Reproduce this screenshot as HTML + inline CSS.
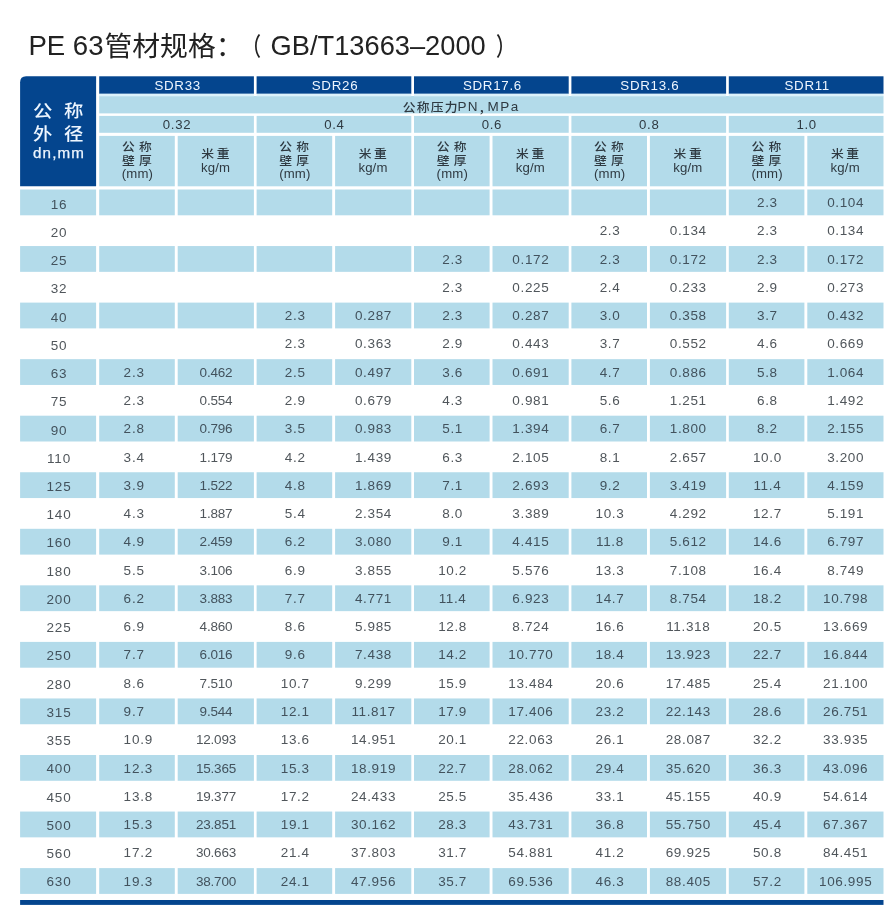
<!DOCTYPE html>
<html lang="zh-CN">
<head>
<meta charset="utf-8">
<title>PE 63管材规格</title>
<style>
html,body{margin:0;padding:0;background:#fff;}
body{width:892px;height:909px;position:relative;overflow:hidden;font-family:"Liberation Sans","Noto Sans CJK SC",sans-serif;color:#50565b;}
svg.bg{position:absolute;left:0;top:0;}
.abs{position:absolute;}
.title{font-size:27.6px;line-height:34px;color:#222;white-space:nowrap;}
.c{position:absolute;text-align:center;white-space:nowrap;}
.hd{font-size:13px;line-height:17px;letter-spacing:0.7px;}
.d{font-size:13.5px;line-height:26px;height:26px;letter-spacing:0.65px;}
.a{text-align:left;}
.s{color:#42525d;}
.sub{font-size:12.8px;line-height:15px;color:#2f3a42;white-space:nowrap;}
.l{font-size:13.2px;letter-spacing:0.15px;}
.k{font-family:"Noto Sans CJK SC","Liberation Sans",sans-serif;font-weight:500;}
</style>
</head>
<body>
<svg class="bg" width="892" height="909" viewBox="0 0 892 909">
<path d="M26.1 76.3 H96.1 V186.3 H20.1 V82.3 Q20.1 76.3 26.1 76.3 Z" fill="#04458e"/>
<rect x="99.2" y="96" width="784.3" height="17.4" fill="#b3dbea"/>
<rect x="99.2" y="76.3" width="154.7" height="17.6" fill="#04458e"/>
<rect x="99.2" y="93.7" width="154.7" height="2.6" fill="#dcf2fb"/>
<rect x="99.2" y="115.9" width="154.7" height="16.9" fill="#b3dbea"/>
<rect x="99.2" y="135.9" width="75.6" height="50.4" fill="#b3dbea"/>
<rect x="177.7" y="135.9" width="76.2" height="50.4" fill="#b3dbea"/>
<rect x="256.6" y="76.3" width="154.7" height="17.6" fill="#04458e"/>
<rect x="256.6" y="93.7" width="154.7" height="2.6" fill="#dcf2fb"/>
<rect x="256.6" y="115.9" width="154.7" height="16.9" fill="#b3dbea"/>
<rect x="256.6" y="135.9" width="75.6" height="50.4" fill="#b3dbea"/>
<rect x="335.1" y="135.9" width="76.2" height="50.4" fill="#b3dbea"/>
<rect x="414" y="76.3" width="154.7" height="17.6" fill="#04458e"/>
<rect x="414" y="93.7" width="154.7" height="2.6" fill="#dcf2fb"/>
<rect x="414" y="115.9" width="154.7" height="16.9" fill="#b3dbea"/>
<rect x="414" y="135.9" width="75.6" height="50.4" fill="#b3dbea"/>
<rect x="492.5" y="135.9" width="76.2" height="50.4" fill="#b3dbea"/>
<rect x="571.4" y="76.3" width="154.7" height="17.6" fill="#04458e"/>
<rect x="571.4" y="93.7" width="154.7" height="2.6" fill="#dcf2fb"/>
<rect x="571.4" y="115.9" width="154.7" height="16.9" fill="#b3dbea"/>
<rect x="571.4" y="135.9" width="75.6" height="50.4" fill="#b3dbea"/>
<rect x="649.9" y="135.9" width="76.2" height="50.4" fill="#b3dbea"/>
<rect x="728.8" y="76.3" width="154.7" height="17.6" fill="#04458e"/>
<rect x="728.8" y="93.7" width="154.7" height="2.6" fill="#dcf2fb"/>
<rect x="728.8" y="115.9" width="154.7" height="16.9" fill="#b3dbea"/>
<rect x="728.8" y="135.9" width="75.6" height="50.4" fill="#b3dbea"/>
<rect x="807.3" y="135.9" width="76.2" height="50.4" fill="#b3dbea"/>
<rect x="20.1" y="189.5" width="76" height="25.8" fill="#b3dbea"/>
<rect x="99.2" y="189.5" width="75.6" height="25.8" fill="#b3dbea"/>
<rect x="177.7" y="189.5" width="76.2" height="25.8" fill="#b3dbea"/>
<rect x="256.6" y="189.5" width="75.6" height="25.8" fill="#b3dbea"/>
<rect x="335.1" y="189.5" width="76.2" height="25.8" fill="#b3dbea"/>
<rect x="414" y="189.5" width="75.6" height="25.8" fill="#b3dbea"/>
<rect x="492.5" y="189.5" width="76.2" height="25.8" fill="#b3dbea"/>
<rect x="571.4" y="189.5" width="75.6" height="25.8" fill="#b3dbea"/>
<rect x="649.9" y="189.5" width="76.2" height="25.8" fill="#b3dbea"/>
<rect x="728.8" y="189.5" width="75.6" height="25.8" fill="#b3dbea"/>
<rect x="807.3" y="189.5" width="76.2" height="25.8" fill="#b3dbea"/>
<rect x="20.1" y="246.05" width="76" height="25.8" fill="#b3dbea"/>
<rect x="99.2" y="246.05" width="75.6" height="25.8" fill="#b3dbea"/>
<rect x="177.7" y="246.05" width="76.2" height="25.8" fill="#b3dbea"/>
<rect x="256.6" y="246.05" width="75.6" height="25.8" fill="#b3dbea"/>
<rect x="335.1" y="246.05" width="76.2" height="25.8" fill="#b3dbea"/>
<rect x="414" y="246.05" width="75.6" height="25.8" fill="#b3dbea"/>
<rect x="492.5" y="246.05" width="76.2" height="25.8" fill="#b3dbea"/>
<rect x="571.4" y="246.05" width="75.6" height="25.8" fill="#b3dbea"/>
<rect x="649.9" y="246.05" width="76.2" height="25.8" fill="#b3dbea"/>
<rect x="728.8" y="246.05" width="75.6" height="25.8" fill="#b3dbea"/>
<rect x="807.3" y="246.05" width="76.2" height="25.8" fill="#b3dbea"/>
<rect x="20.1" y="302.6" width="76" height="25.8" fill="#b3dbea"/>
<rect x="99.2" y="302.6" width="75.6" height="25.8" fill="#b3dbea"/>
<rect x="177.7" y="302.6" width="76.2" height="25.8" fill="#b3dbea"/>
<rect x="256.6" y="302.6" width="75.6" height="25.8" fill="#b3dbea"/>
<rect x="335.1" y="302.6" width="76.2" height="25.8" fill="#b3dbea"/>
<rect x="414" y="302.6" width="75.6" height="25.8" fill="#b3dbea"/>
<rect x="492.5" y="302.6" width="76.2" height="25.8" fill="#b3dbea"/>
<rect x="571.4" y="302.6" width="75.6" height="25.8" fill="#b3dbea"/>
<rect x="649.9" y="302.6" width="76.2" height="25.8" fill="#b3dbea"/>
<rect x="728.8" y="302.6" width="75.6" height="25.8" fill="#b3dbea"/>
<rect x="807.3" y="302.6" width="76.2" height="25.8" fill="#b3dbea"/>
<rect x="20.1" y="359.15" width="76" height="25.8" fill="#b3dbea"/>
<rect x="99.2" y="359.15" width="75.6" height="25.8" fill="#b3dbea"/>
<rect x="177.7" y="359.15" width="76.2" height="25.8" fill="#b3dbea"/>
<rect x="256.6" y="359.15" width="75.6" height="25.8" fill="#b3dbea"/>
<rect x="335.1" y="359.15" width="76.2" height="25.8" fill="#b3dbea"/>
<rect x="414" y="359.15" width="75.6" height="25.8" fill="#b3dbea"/>
<rect x="492.5" y="359.15" width="76.2" height="25.8" fill="#b3dbea"/>
<rect x="571.4" y="359.15" width="75.6" height="25.8" fill="#b3dbea"/>
<rect x="649.9" y="359.15" width="76.2" height="25.8" fill="#b3dbea"/>
<rect x="728.8" y="359.15" width="75.6" height="25.8" fill="#b3dbea"/>
<rect x="807.3" y="359.15" width="76.2" height="25.8" fill="#b3dbea"/>
<rect x="20.1" y="415.7" width="76" height="25.8" fill="#b3dbea"/>
<rect x="99.2" y="415.7" width="75.6" height="25.8" fill="#b3dbea"/>
<rect x="177.7" y="415.7" width="76.2" height="25.8" fill="#b3dbea"/>
<rect x="256.6" y="415.7" width="75.6" height="25.8" fill="#b3dbea"/>
<rect x="335.1" y="415.7" width="76.2" height="25.8" fill="#b3dbea"/>
<rect x="414" y="415.7" width="75.6" height="25.8" fill="#b3dbea"/>
<rect x="492.5" y="415.7" width="76.2" height="25.8" fill="#b3dbea"/>
<rect x="571.4" y="415.7" width="75.6" height="25.8" fill="#b3dbea"/>
<rect x="649.9" y="415.7" width="76.2" height="25.8" fill="#b3dbea"/>
<rect x="728.8" y="415.7" width="75.6" height="25.8" fill="#b3dbea"/>
<rect x="807.3" y="415.7" width="76.2" height="25.8" fill="#b3dbea"/>
<rect x="20.1" y="472.25" width="76" height="25.8" fill="#b3dbea"/>
<rect x="99.2" y="472.25" width="75.6" height="25.8" fill="#b3dbea"/>
<rect x="177.7" y="472.25" width="76.2" height="25.8" fill="#b3dbea"/>
<rect x="256.6" y="472.25" width="75.6" height="25.8" fill="#b3dbea"/>
<rect x="335.1" y="472.25" width="76.2" height="25.8" fill="#b3dbea"/>
<rect x="414" y="472.25" width="75.6" height="25.8" fill="#b3dbea"/>
<rect x="492.5" y="472.25" width="76.2" height="25.8" fill="#b3dbea"/>
<rect x="571.4" y="472.25" width="75.6" height="25.8" fill="#b3dbea"/>
<rect x="649.9" y="472.25" width="76.2" height="25.8" fill="#b3dbea"/>
<rect x="728.8" y="472.25" width="75.6" height="25.8" fill="#b3dbea"/>
<rect x="807.3" y="472.25" width="76.2" height="25.8" fill="#b3dbea"/>
<rect x="20.1" y="528.8" width="76" height="25.8" fill="#b3dbea"/>
<rect x="99.2" y="528.8" width="75.6" height="25.8" fill="#b3dbea"/>
<rect x="177.7" y="528.8" width="76.2" height="25.8" fill="#b3dbea"/>
<rect x="256.6" y="528.8" width="75.6" height="25.8" fill="#b3dbea"/>
<rect x="335.1" y="528.8" width="76.2" height="25.8" fill="#b3dbea"/>
<rect x="414" y="528.8" width="75.6" height="25.8" fill="#b3dbea"/>
<rect x="492.5" y="528.8" width="76.2" height="25.8" fill="#b3dbea"/>
<rect x="571.4" y="528.8" width="75.6" height="25.8" fill="#b3dbea"/>
<rect x="649.9" y="528.8" width="76.2" height="25.8" fill="#b3dbea"/>
<rect x="728.8" y="528.8" width="75.6" height="25.8" fill="#b3dbea"/>
<rect x="807.3" y="528.8" width="76.2" height="25.8" fill="#b3dbea"/>
<rect x="20.1" y="585.35" width="76" height="25.8" fill="#b3dbea"/>
<rect x="99.2" y="585.35" width="75.6" height="25.8" fill="#b3dbea"/>
<rect x="177.7" y="585.35" width="76.2" height="25.8" fill="#b3dbea"/>
<rect x="256.6" y="585.35" width="75.6" height="25.8" fill="#b3dbea"/>
<rect x="335.1" y="585.35" width="76.2" height="25.8" fill="#b3dbea"/>
<rect x="414" y="585.35" width="75.6" height="25.8" fill="#b3dbea"/>
<rect x="492.5" y="585.35" width="76.2" height="25.8" fill="#b3dbea"/>
<rect x="571.4" y="585.35" width="75.6" height="25.8" fill="#b3dbea"/>
<rect x="649.9" y="585.35" width="76.2" height="25.8" fill="#b3dbea"/>
<rect x="728.8" y="585.35" width="75.6" height="25.8" fill="#b3dbea"/>
<rect x="807.3" y="585.35" width="76.2" height="25.8" fill="#b3dbea"/>
<rect x="20.1" y="641.9" width="76" height="25.8" fill="#b3dbea"/>
<rect x="99.2" y="641.9" width="75.6" height="25.8" fill="#b3dbea"/>
<rect x="177.7" y="641.9" width="76.2" height="25.8" fill="#b3dbea"/>
<rect x="256.6" y="641.9" width="75.6" height="25.8" fill="#b3dbea"/>
<rect x="335.1" y="641.9" width="76.2" height="25.8" fill="#b3dbea"/>
<rect x="414" y="641.9" width="75.6" height="25.8" fill="#b3dbea"/>
<rect x="492.5" y="641.9" width="76.2" height="25.8" fill="#b3dbea"/>
<rect x="571.4" y="641.9" width="75.6" height="25.8" fill="#b3dbea"/>
<rect x="649.9" y="641.9" width="76.2" height="25.8" fill="#b3dbea"/>
<rect x="728.8" y="641.9" width="75.6" height="25.8" fill="#b3dbea"/>
<rect x="807.3" y="641.9" width="76.2" height="25.8" fill="#b3dbea"/>
<rect x="20.1" y="698.45" width="76" height="25.8" fill="#b3dbea"/>
<rect x="99.2" y="698.45" width="75.6" height="25.8" fill="#b3dbea"/>
<rect x="177.7" y="698.45" width="76.2" height="25.8" fill="#b3dbea"/>
<rect x="256.6" y="698.45" width="75.6" height="25.8" fill="#b3dbea"/>
<rect x="335.1" y="698.45" width="76.2" height="25.8" fill="#b3dbea"/>
<rect x="414" y="698.45" width="75.6" height="25.8" fill="#b3dbea"/>
<rect x="492.5" y="698.45" width="76.2" height="25.8" fill="#b3dbea"/>
<rect x="571.4" y="698.45" width="75.6" height="25.8" fill="#b3dbea"/>
<rect x="649.9" y="698.45" width="76.2" height="25.8" fill="#b3dbea"/>
<rect x="728.8" y="698.45" width="75.6" height="25.8" fill="#b3dbea"/>
<rect x="807.3" y="698.45" width="76.2" height="25.8" fill="#b3dbea"/>
<rect x="20.1" y="755" width="76" height="25.8" fill="#b3dbea"/>
<rect x="99.2" y="755" width="75.6" height="25.8" fill="#b3dbea"/>
<rect x="177.7" y="755" width="76.2" height="25.8" fill="#b3dbea"/>
<rect x="256.6" y="755" width="75.6" height="25.8" fill="#b3dbea"/>
<rect x="335.1" y="755" width="76.2" height="25.8" fill="#b3dbea"/>
<rect x="414" y="755" width="75.6" height="25.8" fill="#b3dbea"/>
<rect x="492.5" y="755" width="76.2" height="25.8" fill="#b3dbea"/>
<rect x="571.4" y="755" width="75.6" height="25.8" fill="#b3dbea"/>
<rect x="649.9" y="755" width="76.2" height="25.8" fill="#b3dbea"/>
<rect x="728.8" y="755" width="75.6" height="25.8" fill="#b3dbea"/>
<rect x="807.3" y="755" width="76.2" height="25.8" fill="#b3dbea"/>
<rect x="20.1" y="811.55" width="76" height="25.8" fill="#b3dbea"/>
<rect x="99.2" y="811.55" width="75.6" height="25.8" fill="#b3dbea"/>
<rect x="177.7" y="811.55" width="76.2" height="25.8" fill="#b3dbea"/>
<rect x="256.6" y="811.55" width="75.6" height="25.8" fill="#b3dbea"/>
<rect x="335.1" y="811.55" width="76.2" height="25.8" fill="#b3dbea"/>
<rect x="414" y="811.55" width="75.6" height="25.8" fill="#b3dbea"/>
<rect x="492.5" y="811.55" width="76.2" height="25.8" fill="#b3dbea"/>
<rect x="571.4" y="811.55" width="75.6" height="25.8" fill="#b3dbea"/>
<rect x="649.9" y="811.55" width="76.2" height="25.8" fill="#b3dbea"/>
<rect x="728.8" y="811.55" width="75.6" height="25.8" fill="#b3dbea"/>
<rect x="807.3" y="811.55" width="76.2" height="25.8" fill="#b3dbea"/>
<rect x="20.1" y="868.1" width="76" height="25.8" fill="#b3dbea"/>
<rect x="99.2" y="868.1" width="75.6" height="25.8" fill="#b3dbea"/>
<rect x="177.7" y="868.1" width="76.2" height="25.8" fill="#b3dbea"/>
<rect x="256.6" y="868.1" width="75.6" height="25.8" fill="#b3dbea"/>
<rect x="335.1" y="868.1" width="76.2" height="25.8" fill="#b3dbea"/>
<rect x="414" y="868.1" width="75.6" height="25.8" fill="#b3dbea"/>
<rect x="492.5" y="868.1" width="76.2" height="25.8" fill="#b3dbea"/>
<rect x="571.4" y="868.1" width="75.6" height="25.8" fill="#b3dbea"/>
<rect x="649.9" y="868.1" width="76.2" height="25.8" fill="#b3dbea"/>
<rect x="728.8" y="868.1" width="75.6" height="25.8" fill="#b3dbea"/>
<rect x="807.3" y="868.1" width="76.2" height="25.8" fill="#b3dbea"/>
<rect x="20.1" y="900" width="863.4" height="4.9" fill="#04458e"/>
</svg>
<div class="abs title" style="left:28.4px;top:28.6px;">PE 63</div>
<div class="abs title" style="left:104.5px;top:29.8px;font-size:27.8px;">管材规格：</div>
<div class="abs title" style="left:236.3px;top:30px;font-size:25px;font-weight:500;transform:scaleX(0.75);transform-origin:right center;">（</div>
<div class="abs title" style="left:270.6px;top:28.6px;font-size:27.25px;">GB/T13663–2000</div>
<div class="abs title" style="left:496px;top:30px;font-size:25px;font-weight:500;transform:scaleX(0.75);transform-origin:left center;">）</div>
<div class="abs k" style="left:33.1px;top:99px;color:#eef6ff;font-size:19.4px;line-height:22px;transform:scaleY(0.9);">公</div>
<div class="abs k" style="left:64px;top:99px;color:#eef6ff;font-size:19.4px;line-height:22px;transform:scaleY(0.9);">称</div>
<div class="abs k" style="left:33.1px;top:121.5px;color:#eef6ff;font-size:19.4px;line-height:22px;transform:scaleY(0.9);">外</div>
<div class="abs k" style="left:64px;top:121.5px;color:#eef6ff;font-size:19.4px;line-height:22px;transform:scaleY(0.9);">径</div>
<div class="abs" style="left:33.1px;top:146.3px;color:#eef6ff;font-size:13.8px;line-height:16px;letter-spacing:1.05px;white-space:nowrap;-webkit-text-stroke:0.25px #eef6ff;transform:scaleX(1.1);transform-origin:left center;">dn,mm</div>
<div class="c hd" style="left:100.3px;top:77.1px;width:154.7px;color:#eef6ff;font-size:13.35px;">SDR33</div>
<div class="c hd" style="left:99.7px;top:116.3px;width:154.7px;color:#2f3a42;font-size:13.2px;">0.32</div>
<div class="abs sub k" style="left:121.9px;top:138.2px;letter-spacing:4.2px;transform:scaleY(0.93);">公称</div>
<div class="abs sub k" style="left:121.9px;top:151.7px;letter-spacing:4.2px;transform:scaleY(0.93);">壁厚</div>
<div class="abs sub l" style="left:121.8px;top:166.4px;">(mm)</div>
<div class="abs sub k" style="left:201.3px;top:144.5px;letter-spacing:2.6px;transform:scaleY(0.93);">米重</div>
<div class="abs sub l" style="left:201px;top:159.7px;">kg/m</div>
<div class="c hd" style="left:257.7px;top:77.1px;width:154.7px;color:#eef6ff;font-size:13.35px;">SDR26</div>
<div class="c hd" style="left:257.1px;top:116.3px;width:154.7px;color:#2f3a42;font-size:13.2px;">0.4</div>
<div class="abs sub k" style="left:279.3px;top:138.2px;letter-spacing:4.2px;transform:scaleY(0.93);">公称</div>
<div class="abs sub k" style="left:279.3px;top:151.7px;letter-spacing:4.2px;transform:scaleY(0.93);">壁厚</div>
<div class="abs sub l" style="left:279.2px;top:166.4px;">(mm)</div>
<div class="abs sub k" style="left:358.7px;top:144.5px;letter-spacing:2.6px;transform:scaleY(0.93);">米重</div>
<div class="abs sub l" style="left:358.4px;top:159.7px;">kg/m</div>
<div class="c hd" style="left:415.1px;top:77.1px;width:154.7px;color:#eef6ff;font-size:13.35px;">SDR17.6</div>
<div class="c hd" style="left:414.5px;top:116.3px;width:154.7px;color:#2f3a42;font-size:13.2px;">0.6</div>
<div class="abs sub k" style="left:436.7px;top:138.2px;letter-spacing:4.2px;transform:scaleY(0.93);">公称</div>
<div class="abs sub k" style="left:436.7px;top:151.7px;letter-spacing:4.2px;transform:scaleY(0.93);">壁厚</div>
<div class="abs sub l" style="left:436.6px;top:166.4px;">(mm)</div>
<div class="abs sub k" style="left:516.1px;top:144.5px;letter-spacing:2.6px;transform:scaleY(0.93);">米重</div>
<div class="abs sub l" style="left:515.8px;top:159.7px;">kg/m</div>
<div class="c hd" style="left:572.5px;top:77.1px;width:154.7px;color:#eef6ff;font-size:13.35px;">SDR13.6</div>
<div class="c hd" style="left:571.9px;top:116.3px;width:154.7px;color:#2f3a42;font-size:13.2px;">0.8</div>
<div class="abs sub k" style="left:594.1px;top:138.2px;letter-spacing:4.2px;transform:scaleY(0.93);">公称</div>
<div class="abs sub k" style="left:594.1px;top:151.7px;letter-spacing:4.2px;transform:scaleY(0.93);">壁厚</div>
<div class="abs sub l" style="left:594px;top:166.4px;">(mm)</div>
<div class="abs sub k" style="left:673.5px;top:144.5px;letter-spacing:2.6px;transform:scaleY(0.93);">米重</div>
<div class="abs sub l" style="left:673.2px;top:159.7px;">kg/m</div>
<div class="c hd" style="left:729.9px;top:77.1px;width:154.7px;color:#eef6ff;font-size:13.35px;">SDR11</div>
<div class="c hd" style="left:729.3px;top:116.3px;width:154.7px;color:#2f3a42;font-size:13.2px;">1.0</div>
<div class="abs sub k" style="left:751.5px;top:138.2px;letter-spacing:4.2px;transform:scaleY(0.93);">公称</div>
<div class="abs sub k" style="left:751.5px;top:151.7px;letter-spacing:4.2px;transform:scaleY(0.93);">壁厚</div>
<div class="abs sub l" style="left:751.4px;top:166.4px;">(mm)</div>
<div class="abs sub k" style="left:830.9px;top:144.5px;letter-spacing:2.6px;transform:scaleY(0.93);">米重</div>
<div class="abs sub l" style="left:830.6px;top:159.7px;">kg/m</div>
<div class="abs k" style="left:402.7px;top:97.7px;font-size:12.8px;line-height:18px;color:#2f3a42;letter-spacing:1.2px;white-space:nowrap;transform:scaleY(0.95);">公称压力</div>
<div class="abs" style="left:457.4px;top:98.3px;font-size:13.5px;line-height:18px;color:#2f3a42;letter-spacing:1.3px;white-space:nowrap;">PN</div>
<div class="abs k" style="left:478.4px;top:97.6px;font-size:12.8px;line-height:18px;color:#2f3a42;white-space:nowrap;">，</div>
<div class="abs" style="left:487.6px;top:98.3px;font-size:13.5px;line-height:18px;color:#2f3a42;letter-spacing:1.5px;white-space:nowrap;">MPa</div>
<div class="c d s" style="left:21px;top:192px;width:76px;letter-spacing:0.8px;">16</div>
<div class="c d s" style="left:729.6px;top:190px;width:75.6px;">2.3</div>
<div class="c d s" style="left:807.6px;top:190px;width:76.2px;">0.104</div>
<div class="c d" style="left:21px;top:220px;width:76px;letter-spacing:0.8px;">20</div>
<div class="c d" style="left:572.2px;top:218px;width:75.6px;">2.3</div>
<div class="c d" style="left:650.2px;top:218px;width:76.2px;">0.134</div>
<div class="c d" style="left:729.6px;top:218px;width:75.6px;">2.3</div>
<div class="c d" style="left:807.6px;top:218px;width:76.2px;">0.134</div>
<div class="c d s" style="left:21px;top:248px;width:76px;letter-spacing:0.8px;">25</div>
<div class="c d s" style="left:414.8px;top:247px;width:75.6px;">2.3</div>
<div class="c d s" style="left:492.8px;top:247px;width:76.2px;">0.172</div>
<div class="c d s" style="left:572.2px;top:247px;width:75.6px;">2.3</div>
<div class="c d s" style="left:650.2px;top:247px;width:76.2px;">0.172</div>
<div class="c d s" style="left:729.6px;top:247px;width:75.6px;">2.3</div>
<div class="c d s" style="left:807.6px;top:247px;width:76.2px;">0.172</div>
<div class="c d" style="left:21px;top:276px;width:76px;letter-spacing:0.8px;">32</div>
<div class="c d" style="left:414.8px;top:275px;width:75.6px;">2.3</div>
<div class="c d" style="left:492.8px;top:275px;width:76.2px;">0.225</div>
<div class="c d" style="left:572.2px;top:275px;width:75.6px;">2.4</div>
<div class="c d" style="left:650.2px;top:275px;width:76.2px;">0.233</div>
<div class="c d" style="left:729.6px;top:275px;width:75.6px;">2.9</div>
<div class="c d" style="left:807.6px;top:275px;width:76.2px;">0.273</div>
<div class="c d s" style="left:21px;top:305px;width:76px;letter-spacing:0.8px;">40</div>
<div class="c d s" style="left:257.4px;top:303px;width:75.6px;">2.3</div>
<div class="c d s" style="left:335.4px;top:303px;width:76.2px;">0.287</div>
<div class="c d s" style="left:414.8px;top:303px;width:75.6px;">2.3</div>
<div class="c d s" style="left:492.8px;top:303px;width:76.2px;">0.287</div>
<div class="c d s" style="left:572.2px;top:303px;width:75.6px;">3.0</div>
<div class="c d s" style="left:650.2px;top:303px;width:76.2px;">0.358</div>
<div class="c d s" style="left:729.6px;top:303px;width:75.6px;">3.7</div>
<div class="c d s" style="left:807.6px;top:303px;width:76.2px;">0.432</div>
<div class="c d" style="left:21px;top:333px;width:76px;letter-spacing:0.8px;">50</div>
<div class="c d" style="left:257.4px;top:331px;width:75.6px;">2.3</div>
<div class="c d" style="left:335.4px;top:331px;width:76.2px;">0.363</div>
<div class="c d" style="left:414.8px;top:331px;width:75.6px;">2.9</div>
<div class="c d" style="left:492.8px;top:331px;width:76.2px;">0.443</div>
<div class="c d" style="left:572.2px;top:331px;width:75.6px;">3.7</div>
<div class="c d" style="left:650.2px;top:331px;width:76.2px;">0.552</div>
<div class="c d" style="left:729.6px;top:331px;width:75.6px;">4.6</div>
<div class="c d" style="left:807.6px;top:331px;width:76.2px;">0.669</div>
<div class="c d s" style="left:21px;top:361px;width:76px;letter-spacing:0.8px;">63</div>
<div class="c d a s" style="left:123.6px;top:360px;letter-spacing:0.8px;">2.3</div>
<div class="c d s" style="left:177.9px;top:360px;width:76.2px;letter-spacing:-0.2px;">0.462</div>
<div class="c d s" style="left:257.4px;top:360px;width:75.6px;">2.5</div>
<div class="c d s" style="left:335.4px;top:360px;width:76.2px;">0.497</div>
<div class="c d s" style="left:414.8px;top:360px;width:75.6px;">3.6</div>
<div class="c d s" style="left:492.8px;top:360px;width:76.2px;">0.691</div>
<div class="c d s" style="left:572.2px;top:360px;width:75.6px;">4.7</div>
<div class="c d s" style="left:650.2px;top:360px;width:76.2px;">0.886</div>
<div class="c d s" style="left:729.6px;top:360px;width:75.6px;">5.8</div>
<div class="c d s" style="left:807.6px;top:360px;width:76.2px;">1.064</div>
<div class="c d" style="left:21px;top:389px;width:76px;letter-spacing:0.8px;">75</div>
<div class="c d a" style="left:123.6px;top:388px;letter-spacing:0.8px;">2.3</div>
<div class="c d" style="left:177.9px;top:388px;width:76.2px;letter-spacing:-0.2px;">0.554</div>
<div class="c d" style="left:257.4px;top:388px;width:75.6px;">2.9</div>
<div class="c d" style="left:335.4px;top:388px;width:76.2px;">0.679</div>
<div class="c d" style="left:414.8px;top:388px;width:75.6px;">4.3</div>
<div class="c d" style="left:492.8px;top:388px;width:76.2px;">0.981</div>
<div class="c d" style="left:572.2px;top:388px;width:75.6px;">5.6</div>
<div class="c d" style="left:650.2px;top:388px;width:76.2px;">1.251</div>
<div class="c d" style="left:729.6px;top:388px;width:75.6px;">6.8</div>
<div class="c d" style="left:807.6px;top:388px;width:76.2px;">1.492</div>
<div class="c d s" style="left:21px;top:418px;width:76px;letter-spacing:0.8px;">90</div>
<div class="c d a s" style="left:123.6px;top:416px;letter-spacing:0.8px;">2.8</div>
<div class="c d s" style="left:177.9px;top:416px;width:76.2px;letter-spacing:-0.2px;">0.796</div>
<div class="c d s" style="left:257.4px;top:416px;width:75.6px;">3.5</div>
<div class="c d s" style="left:335.4px;top:416px;width:76.2px;">0.983</div>
<div class="c d s" style="left:414.8px;top:416px;width:75.6px;">5.1</div>
<div class="c d s" style="left:492.8px;top:416px;width:76.2px;">1.394</div>
<div class="c d s" style="left:572.2px;top:416px;width:75.6px;">6.7</div>
<div class="c d s" style="left:650.2px;top:416px;width:76.2px;">1.800</div>
<div class="c d s" style="left:729.6px;top:416px;width:75.6px;">8.2</div>
<div class="c d s" style="left:807.6px;top:416px;width:76.2px;">2.155</div>
<div class="c d" style="left:21px;top:446px;width:76px;letter-spacing:0.8px;">110</div>
<div class="c d a" style="left:123.6px;top:445px;letter-spacing:0.8px;">3.4</div>
<div class="c d" style="left:177.9px;top:445px;width:76.2px;letter-spacing:-0.2px;">1.179</div>
<div class="c d" style="left:257.4px;top:445px;width:75.6px;">4.2</div>
<div class="c d" style="left:335.4px;top:445px;width:76.2px;">1.439</div>
<div class="c d" style="left:414.8px;top:445px;width:75.6px;">6.3</div>
<div class="c d" style="left:492.8px;top:445px;width:76.2px;">2.105</div>
<div class="c d" style="left:572.2px;top:445px;width:75.6px;">8.1</div>
<div class="c d" style="left:650.2px;top:445px;width:76.2px;">2.657</div>
<div class="c d" style="left:729.6px;top:445px;width:75.6px;">10.0</div>
<div class="c d" style="left:807.6px;top:445px;width:76.2px;">3.200</div>
<div class="c d s" style="left:21px;top:474px;width:76px;letter-spacing:0.8px;">125</div>
<div class="c d a s" style="left:123.6px;top:473px;letter-spacing:0.8px;">3.9</div>
<div class="c d s" style="left:177.9px;top:473px;width:76.2px;letter-spacing:-0.2px;">1.522</div>
<div class="c d s" style="left:257.4px;top:473px;width:75.6px;">4.8</div>
<div class="c d s" style="left:335.4px;top:473px;width:76.2px;">1.869</div>
<div class="c d s" style="left:414.8px;top:473px;width:75.6px;">7.1</div>
<div class="c d s" style="left:492.8px;top:473px;width:76.2px;">2.693</div>
<div class="c d s" style="left:572.2px;top:473px;width:75.6px;">9.2</div>
<div class="c d s" style="left:650.2px;top:473px;width:76.2px;">3.419</div>
<div class="c d s" style="left:729.6px;top:473px;width:75.6px;">11.4</div>
<div class="c d s" style="left:807.6px;top:473px;width:76.2px;">4.159</div>
<div class="c d" style="left:21px;top:502px;width:76px;letter-spacing:0.8px;">140</div>
<div class="c d a" style="left:123.6px;top:501px;letter-spacing:0.8px;">4.3</div>
<div class="c d" style="left:177.9px;top:501px;width:76.2px;letter-spacing:-0.2px;">1.887</div>
<div class="c d" style="left:257.4px;top:501px;width:75.6px;">5.4</div>
<div class="c d" style="left:335.4px;top:501px;width:76.2px;">2.354</div>
<div class="c d" style="left:414.8px;top:501px;width:75.6px;">8.0</div>
<div class="c d" style="left:492.8px;top:501px;width:76.2px;">3.389</div>
<div class="c d" style="left:572.2px;top:501px;width:75.6px;">10.3</div>
<div class="c d" style="left:650.2px;top:501px;width:76.2px;">4.292</div>
<div class="c d" style="left:729.6px;top:501px;width:75.6px;">12.7</div>
<div class="c d" style="left:807.6px;top:501px;width:76.2px;">5.191</div>
<div class="c d s" style="left:21px;top:530px;width:76px;letter-spacing:0.8px;">160</div>
<div class="c d a s" style="left:123.6px;top:529px;letter-spacing:0.8px;">4.9</div>
<div class="c d s" style="left:177.9px;top:529px;width:76.2px;letter-spacing:-0.2px;">2.459</div>
<div class="c d s" style="left:257.4px;top:529px;width:75.6px;">6.2</div>
<div class="c d s" style="left:335.4px;top:529px;width:76.2px;">3.080</div>
<div class="c d s" style="left:414.8px;top:529px;width:75.6px;">9.1</div>
<div class="c d s" style="left:492.8px;top:529px;width:76.2px;">4.415</div>
<div class="c d s" style="left:572.2px;top:529px;width:75.6px;">11.8</div>
<div class="c d s" style="left:650.2px;top:529px;width:76.2px;">5.612</div>
<div class="c d s" style="left:729.6px;top:529px;width:75.6px;">14.6</div>
<div class="c d s" style="left:807.6px;top:529px;width:76.2px;">6.797</div>
<div class="c d" style="left:21px;top:559px;width:76px;letter-spacing:0.8px;">180</div>
<div class="c d a" style="left:123.6px;top:558px;letter-spacing:0.8px;">5.5</div>
<div class="c d" style="left:177.9px;top:558px;width:76.2px;letter-spacing:-0.2px;">3.106</div>
<div class="c d" style="left:257.4px;top:558px;width:75.6px;">6.9</div>
<div class="c d" style="left:335.4px;top:558px;width:76.2px;">3.855</div>
<div class="c d" style="left:414.8px;top:558px;width:75.6px;">10.2</div>
<div class="c d" style="left:492.8px;top:558px;width:76.2px;">5.576</div>
<div class="c d" style="left:572.2px;top:558px;width:75.6px;">13.3</div>
<div class="c d" style="left:650.2px;top:558px;width:76.2px;">7.108</div>
<div class="c d" style="left:729.6px;top:558px;width:75.6px;">16.4</div>
<div class="c d" style="left:807.6px;top:558px;width:76.2px;">8.749</div>
<div class="c d s" style="left:21px;top:587px;width:76px;letter-spacing:0.8px;">200</div>
<div class="c d a s" style="left:123.6px;top:586px;letter-spacing:0.8px;">6.2</div>
<div class="c d s" style="left:177.9px;top:586px;width:76.2px;letter-spacing:-0.2px;">3.883</div>
<div class="c d s" style="left:257.4px;top:586px;width:75.6px;">7.7</div>
<div class="c d s" style="left:335.4px;top:586px;width:76.2px;">4.771</div>
<div class="c d s" style="left:414.8px;top:586px;width:75.6px;">11.4</div>
<div class="c d s" style="left:492.8px;top:586px;width:76.2px;">6.923</div>
<div class="c d s" style="left:572.2px;top:586px;width:75.6px;">14.7</div>
<div class="c d s" style="left:650.2px;top:586px;width:76.2px;">8.754</div>
<div class="c d s" style="left:729.6px;top:586px;width:75.6px;">18.2</div>
<div class="c d s" style="left:807.6px;top:586px;width:76.2px;">10.798</div>
<div class="c d" style="left:21px;top:615px;width:76px;letter-spacing:0.8px;">225</div>
<div class="c d a" style="left:123.6px;top:614px;letter-spacing:0.8px;">6.9</div>
<div class="c d" style="left:177.9px;top:614px;width:76.2px;letter-spacing:-0.2px;">4.860</div>
<div class="c d" style="left:257.4px;top:614px;width:75.6px;">8.6</div>
<div class="c d" style="left:335.4px;top:614px;width:76.2px;">5.985</div>
<div class="c d" style="left:414.8px;top:614px;width:75.6px;">12.8</div>
<div class="c d" style="left:492.8px;top:614px;width:76.2px;">8.724</div>
<div class="c d" style="left:572.2px;top:614px;width:75.6px;">16.6</div>
<div class="c d" style="left:650.2px;top:614px;width:76.2px;">11.318</div>
<div class="c d" style="left:729.6px;top:614px;width:75.6px;">20.5</div>
<div class="c d" style="left:807.6px;top:614px;width:76.2px;">13.669</div>
<div class="c d s" style="left:21px;top:643px;width:76px;letter-spacing:0.8px;">250</div>
<div class="c d a s" style="left:123.6px;top:642px;letter-spacing:0.8px;">7.7</div>
<div class="c d s" style="left:177.9px;top:642px;width:76.2px;letter-spacing:-0.2px;">6.016</div>
<div class="c d s" style="left:257.4px;top:642px;width:75.6px;">9.6</div>
<div class="c d s" style="left:335.4px;top:642px;width:76.2px;">7.438</div>
<div class="c d s" style="left:414.8px;top:642px;width:75.6px;">14.2</div>
<div class="c d s" style="left:492.8px;top:642px;width:76.2px;">10.770</div>
<div class="c d s" style="left:572.2px;top:642px;width:75.6px;">18.4</div>
<div class="c d s" style="left:650.2px;top:642px;width:76.2px;">13.923</div>
<div class="c d s" style="left:729.6px;top:642px;width:75.6px;">22.7</div>
<div class="c d s" style="left:807.6px;top:642px;width:76.2px;">16.844</div>
<div class="c d" style="left:21px;top:672px;width:76px;letter-spacing:0.8px;">280</div>
<div class="c d a" style="left:123.6px;top:671px;letter-spacing:0.8px;">8.6</div>
<div class="c d" style="left:177.9px;top:671px;width:76.2px;letter-spacing:-0.2px;">7.510</div>
<div class="c d" style="left:257.4px;top:671px;width:75.6px;">10.7</div>
<div class="c d" style="left:335.4px;top:671px;width:76.2px;">9.299</div>
<div class="c d" style="left:414.8px;top:671px;width:75.6px;">15.9</div>
<div class="c d" style="left:492.8px;top:671px;width:76.2px;">13.484</div>
<div class="c d" style="left:572.2px;top:671px;width:75.6px;">20.6</div>
<div class="c d" style="left:650.2px;top:671px;width:76.2px;">17.485</div>
<div class="c d" style="left:729.6px;top:671px;width:75.6px;">25.4</div>
<div class="c d" style="left:807.6px;top:671px;width:76.2px;">21.100</div>
<div class="c d s" style="left:21px;top:700px;width:76px;letter-spacing:0.8px;">315</div>
<div class="c d a s" style="left:123.6px;top:699px;letter-spacing:0.8px;">9.7</div>
<div class="c d s" style="left:177.9px;top:699px;width:76.2px;letter-spacing:-0.2px;">9.544</div>
<div class="c d s" style="left:257.4px;top:699px;width:75.6px;">12.1</div>
<div class="c d s" style="left:335.4px;top:699px;width:76.2px;">11.817</div>
<div class="c d s" style="left:414.8px;top:699px;width:75.6px;">17.9</div>
<div class="c d s" style="left:492.8px;top:699px;width:76.2px;">17.406</div>
<div class="c d s" style="left:572.2px;top:699px;width:75.6px;">23.2</div>
<div class="c d s" style="left:650.2px;top:699px;width:76.2px;">22.143</div>
<div class="c d s" style="left:729.6px;top:699px;width:75.6px;">28.6</div>
<div class="c d s" style="left:807.6px;top:699px;width:76.2px;">26.751</div>
<div class="c d" style="left:21px;top:728px;width:76px;letter-spacing:0.8px;">355</div>
<div class="c d a" style="left:123.6px;top:727px;letter-spacing:0.8px;">10.9</div>
<div class="c d" style="left:177.9px;top:727px;width:76.2px;letter-spacing:-0.2px;">12.093</div>
<div class="c d" style="left:257.4px;top:727px;width:75.6px;">13.6</div>
<div class="c d" style="left:335.4px;top:727px;width:76.2px;">14.951</div>
<div class="c d" style="left:414.8px;top:727px;width:75.6px;">20.1</div>
<div class="c d" style="left:492.8px;top:727px;width:76.2px;">22.063</div>
<div class="c d" style="left:572.2px;top:727px;width:75.6px;">26.1</div>
<div class="c d" style="left:650.2px;top:727px;width:76.2px;">28.087</div>
<div class="c d" style="left:729.6px;top:727px;width:75.6px;">32.2</div>
<div class="c d" style="left:807.6px;top:727px;width:76.2px;">33.935</div>
<div class="c d s" style="left:21px;top:756px;width:76px;letter-spacing:0.8px;">400</div>
<div class="c d a s" style="left:123.6px;top:756px;letter-spacing:0.8px;">12.3</div>
<div class="c d s" style="left:177.9px;top:756px;width:76.2px;letter-spacing:-0.2px;">15.365</div>
<div class="c d s" style="left:257.4px;top:756px;width:75.6px;">15.3</div>
<div class="c d s" style="left:335.4px;top:756px;width:76.2px;">18.919</div>
<div class="c d s" style="left:414.8px;top:756px;width:75.6px;">22.7</div>
<div class="c d s" style="left:492.8px;top:756px;width:76.2px;">28.062</div>
<div class="c d s" style="left:572.2px;top:756px;width:75.6px;">29.4</div>
<div class="c d s" style="left:650.2px;top:756px;width:76.2px;">35.620</div>
<div class="c d s" style="left:729.6px;top:756px;width:75.6px;">36.3</div>
<div class="c d s" style="left:807.6px;top:756px;width:76.2px;">43.096</div>
<div class="c d" style="left:21px;top:785px;width:76px;letter-spacing:0.8px;">450</div>
<div class="c d a" style="left:123.6px;top:784px;letter-spacing:0.8px;">13.8</div>
<div class="c d" style="left:177.9px;top:784px;width:76.2px;letter-spacing:-0.2px;">19.377</div>
<div class="c d" style="left:257.4px;top:784px;width:75.6px;">17.2</div>
<div class="c d" style="left:335.4px;top:784px;width:76.2px;">24.433</div>
<div class="c d" style="left:414.8px;top:784px;width:75.6px;">25.5</div>
<div class="c d" style="left:492.8px;top:784px;width:76.2px;">35.436</div>
<div class="c d" style="left:572.2px;top:784px;width:75.6px;">33.1</div>
<div class="c d" style="left:650.2px;top:784px;width:76.2px;">45.155</div>
<div class="c d" style="left:729.6px;top:784px;width:75.6px;">40.9</div>
<div class="c d" style="left:807.6px;top:784px;width:76.2px;">54.614</div>
<div class="c d s" style="left:21px;top:813px;width:76px;letter-spacing:0.8px;">500</div>
<div class="c d a s" style="left:123.6px;top:812px;letter-spacing:0.8px;">15.3</div>
<div class="c d s" style="left:177.9px;top:812px;width:76.2px;letter-spacing:-0.2px;">23.851</div>
<div class="c d s" style="left:257.4px;top:812px;width:75.6px;">19.1</div>
<div class="c d s" style="left:335.4px;top:812px;width:76.2px;">30.162</div>
<div class="c d s" style="left:414.8px;top:812px;width:75.6px;">28.3</div>
<div class="c d s" style="left:492.8px;top:812px;width:76.2px;">43.731</div>
<div class="c d s" style="left:572.2px;top:812px;width:75.6px;">36.8</div>
<div class="c d s" style="left:650.2px;top:812px;width:76.2px;">55.750</div>
<div class="c d s" style="left:729.6px;top:812px;width:75.6px;">45.4</div>
<div class="c d s" style="left:807.6px;top:812px;width:76.2px;">67.367</div>
<div class="c d" style="left:21px;top:841px;width:76px;letter-spacing:0.8px;">560</div>
<div class="c d a" style="left:123.6px;top:840px;letter-spacing:0.8px;">17.2</div>
<div class="c d" style="left:177.9px;top:840px;width:76.2px;letter-spacing:-0.2px;">30.663</div>
<div class="c d" style="left:257.4px;top:840px;width:75.6px;">21.4</div>
<div class="c d" style="left:335.4px;top:840px;width:76.2px;">37.803</div>
<div class="c d" style="left:414.8px;top:840px;width:75.6px;">31.7</div>
<div class="c d" style="left:492.8px;top:840px;width:76.2px;">54.881</div>
<div class="c d" style="left:572.2px;top:840px;width:75.6px;">41.2</div>
<div class="c d" style="left:650.2px;top:840px;width:76.2px;">69.925</div>
<div class="c d" style="left:729.6px;top:840px;width:75.6px;">50.8</div>
<div class="c d" style="left:807.6px;top:840px;width:76.2px;">84.451</div>
<div class="c d s" style="left:21px;top:869px;width:76px;letter-spacing:0.8px;">630</div>
<div class="c d a s" style="left:123.6px;top:869px;letter-spacing:0.8px;">19.3</div>
<div class="c d s" style="left:177.9px;top:869px;width:76.2px;letter-spacing:-0.2px;">38.700</div>
<div class="c d s" style="left:257.4px;top:869px;width:75.6px;">24.1</div>
<div class="c d s" style="left:335.4px;top:869px;width:76.2px;">47.956</div>
<div class="c d s" style="left:414.8px;top:869px;width:75.6px;">35.7</div>
<div class="c d s" style="left:492.8px;top:869px;width:76.2px;">69.536</div>
<div class="c d s" style="left:572.2px;top:869px;width:75.6px;">46.3</div>
<div class="c d s" style="left:650.2px;top:869px;width:76.2px;">88.405</div>
<div class="c d s" style="left:729.6px;top:869px;width:75.6px;">57.2</div>
<div class="c d s" style="left:807.6px;top:869px;width:76.2px;">106.995</div>
</body>
</html>
